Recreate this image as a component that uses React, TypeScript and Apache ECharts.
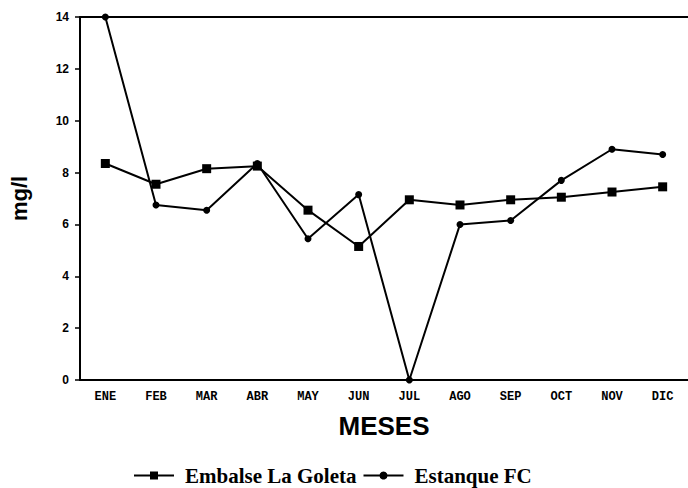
import React, { useEffect, useRef } from "react";
import * as echarts from "echarts";

const months = ["ENE", "FEB", "MAR", "ABR", "MAY", "JUN", "JUL", "AGO", "SEP", "OCT", "NOV", "DIC"];
const embalse = [8.35, 7.55, 8.15, 8.25, 6.55, 5.15, 6.95, 6.75, 6.95, 7.05, 7.25, 7.45];
const estanque = [14.0, 6.75, 6.55, 8.35, 5.45, 7.15, 0, 6.0, 6.15, 7.7, 8.9, 8.7];
const seriesNames = ["Embalse La Goleta", "Estanque FC"];

export default function App() {
  const ref = useRef<HTMLDivElement>(null);
  useEffect(() => {
    if (!ref.current) return;
    const chart = echarts.init(ref.current, null, { renderer: "svg" });
    chart.setOption({
      animation: false,
      backgroundColor: "#fff",
      grid: {
        left: 77,
        top: 17,
        width: 614,
        bottom: 108,
      },
      legend: {
        left: 133,
        top: 465,
        itemWidth: 40,
        itemHeight: 10,
        itemGap: 6,
        padding: 0,
        data: seriesNames,
        textStyle: {
          fontFamily: "Liberation Serif",
          fontWeight: "bold",
          fontSize: 21,
          lineHeight: 20,
          color: "#000",
          padding: [0, 0, 0, 6],
        },
      },
      xAxis: [
        {
          type: "category",
          data: months,
          boundaryGap: true,
          name: "MESES",
          nameLocation: "middle",
          nameGap: 33,
          nameTextStyle: {
            fontFamily: "Liberation Sans",
            fontWeight: "bold",
            fontSize: 26,
            color: "#000",
            verticalAlign: "top",
          },
          axisLine: { lineStyle: { color: "#000", width: 2 } },
          axisTick: { alignWithLabel: true, length: 6, lineStyle: { color: "#000", width: 1.5 } },
          axisLabel: {
            color: "#000",
            fontFamily: "Liberation Mono",
            fontWeight: "bold",
            fontSize: 12,
            margin: 11,
          },
        },
        {
          type: "category",
          data: months,
          position: "top",
          axisLine: { lineStyle: { color: "#000", width: 2 } },
          axisTick: { show: false },
          axisLabel: { show: false },
        },
      ],
      yAxis: {
        type: "value",
        min: 0,
        max: 14,
        interval: 2,
        name: "mg/l",
        nameLocation: "middle",
        nameGap: 50,
        nameTextStyle: {
          fontFamily: "Liberation Sans",
          fontWeight: "bold",
          fontSize: 22,
          color: "#000",
        },
        splitLine: { show: false },
        axisLine: { show: true, lineStyle: { color: "#000", width: 2 } },
        axisTick: { show: true, length: 5, lineStyle: { color: "#000", width: 1.5 } },
        axisLabel: {
          color: "#000",
          fontFamily: "Liberation Sans",
          fontWeight: "bold",
          fontSize: 12,
          margin: 11,
        },
      },
      series: [
        {
          name: seriesNames[0],
          type: "line",
          data: embalse,
          symbol: "rect",
          symbolSize: 9,
          lineStyle: { color: "#000", width: 2 },
          itemStyle: { color: "#000" },
        },
        {
          name: seriesNames[1],
          type: "line",
          data: estanque,
          symbol: "circle",
          symbolSize: 7,
          lineStyle: { color: "#000", width: 2 },
          itemStyle: { color: "#000" },
        },
      ],
    });
    return () => chart.dispose();
  }, []);
  return (
    <div
      ref={ref}
      style={{ position: "fixed", left: 0, top: 0, width: 688, height: 488 }}
    />
  );
}
